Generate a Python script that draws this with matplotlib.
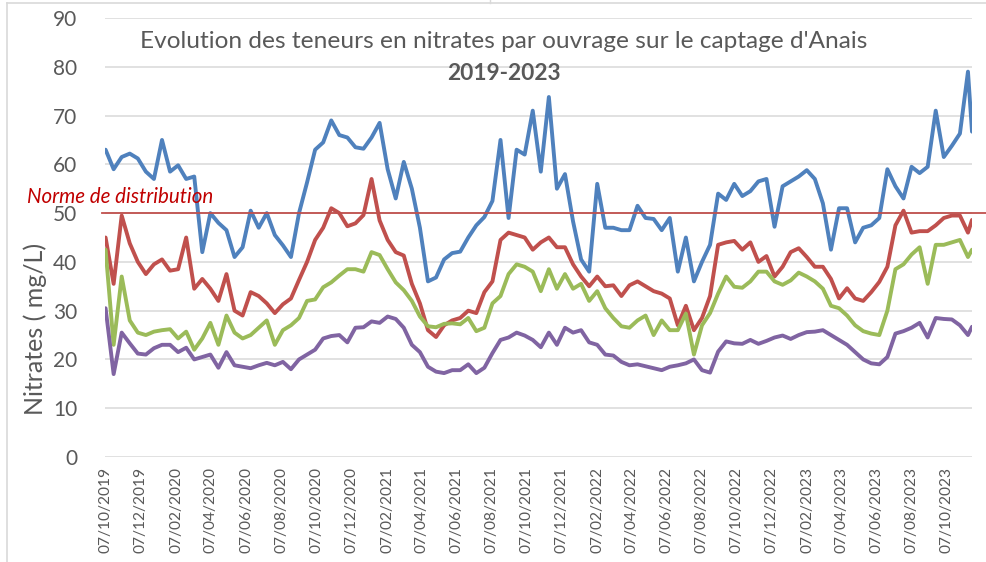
import numpy as np
import pandas as pd
import matplotlib
matplotlib.use("Agg")
import matplotlib.pyplot as plt
import matplotlib.dates as mdates
from matplotlib.lines import Line2D

# ---------------- data (biweekly readings) ----------------
start_date = "2019-10-07"
n_regular = 108
last_date = "2023-11-20"

blue = [63, 59, 61.5, 62.2, 61.2, 58.5, 57, 65, 58.5, 59.8, 57, 57.5, 42, 50, 48, 46.5, 41, 43,
        50.5, 47, 50, 45.5, 43.4, 41, 50, 56.3, 63, 64.5, 69, 66, 65.5, 63.5, 63.2, 65.5, 68.5, 59,
        53, 60.5, 55, 47, 36, 36.8, 40.5, 41.8, 42.1, 45, 47.5, 49.2, 52.5, 65, 49, 63, 62, 71,
        58.5, 73.8, 55, 58, 48.3, 40.5, 38, 56, 47, 47, 46.5, 46.5, 51.5, 49, 48.8, 46.5, 49, 38,
        45, 36, 40, 43.5, 54, 52.7, 56, 53.5, 54.5, 56.5, 57, 47.2, 55.5, 56.5, 57.5, 58.8, 57, 52,
        42.5, 51, 51, 44, 47, 47.5, 49, 59, 55.5, 53, 59.5, 58.2, 59.5, 71, 61.5, 63.8, 66.3, 79,
        66.7]
red = [45, 35.5, 49.5, 43.8, 40, 37.5, 39.5, 40.5, 38.2, 38.5, 45, 34.5, 36.5, 34.5, 32, 37.5, 30, 29,
       33.8, 33, 31.5, 29.5, 31.3, 32.5, 36.3, 40, 44.5, 47, 51, 50, 47.3, 47.9, 49.6, 57, 48.5, 44.5,
       42, 41.3, 35.5, 31.5, 26, 24.6, 27, 28, 28.5, 30, 29.5, 33.8, 36, 44.5, 46, 45.5, 45, 42.5,
       44, 45, 43, 43, 39.5, 37, 35, 37, 35, 35.2, 33, 35.2, 36, 35, 34, 33.5, 32.5, 27,
       31, 26, 28.5, 33, 43.5, 44, 44.3, 42.5, 44, 40, 41.2, 37, 39, 42, 42.8, 41, 39, 39,
       36.5, 32.5, 34.6, 32.5, 32, 33.8, 35.9, 39, 47.5, 50.5, 46, 46.3, 46.3, 47.5, 49, 49.5, 49.5, 46,
       48.6]
green = [42.5, 23, 37, 28, 25.5, 25, 25.7, 26, 26.2, 24.3, 25.7, 22, 24.3, 27.5, 23, 29, 25.5, 24.3,
         25, 26.5, 28, 23, 26, 27, 28.5, 32, 32.3, 34.8, 35.8, 37.2, 38.5, 38.5, 38, 42, 41.4, 38.5,
         35.8, 34.2, 32, 28.8, 26.8, 26.6, 27.3, 27.4, 27.2, 28.5, 25.8, 26.5, 31.5, 33, 37.5, 39.5, 39, 38,
         34, 38.5, 34.5, 37.5, 34.5, 35.5, 32, 34, 30.5, 28.5, 26.8, 26.5, 28, 29, 25, 28, 26, 26,
         29.4, 21, 27, 29.5, 33.5, 37, 34.9, 34.7, 36, 38, 38, 36, 35.3, 36.2, 37.8, 37, 36, 34.5,
         31, 30.5, 29, 27, 25.8, 25.3, 25, 30, 38.5, 39.5, 41.5, 43, 35.5, 43.5, 43.5, 44, 44.5, 41,
         42.5]
purple = [30.5, 17, 25.5, 23.3, 21.2, 21, 22.3, 23, 23, 21.5, 22.4, 20, 20.5, 21, 18.3, 21.5, 18.8, 18.5,
          18.2, 18.8, 19.3, 18.8, 19.5, 18, 20, 21, 22, 24.3, 24.8, 25, 23.5, 26.5, 26.6, 27.8, 27.5, 28.8,
          28.3, 26.5, 23, 21.5, 18.5, 17.5, 17.2, 17.8, 17.8, 19, 17.2, 18.3, 21.3, 24, 24.5, 25.5, 24.9, 24,
          22.5, 25.5, 23, 26.5, 25.5, 26, 23.5, 23, 21, 20.8, 19.5, 18.8, 19, 18.6, 18.2, 17.8, 18.5, 18.8,
          19.2, 20, 17.8, 17.3, 21.6, 23.7, 23.3, 23.2, 24, 23.2, 23.8, 24.5, 24.9, 24.2, 25, 25.6, 25.7, 26,
          25, 24, 23, 21.5, 20, 19.2, 19, 20.5, 25.3, 25.8, 26.5, 27.5, 24.5, 28.5, 28.3, 28.2, 27, 25,
          26.7]
norme_value = 50
y_ticks = [0, 10, 20, 30, 40, 50, 60, 70, 80, 90]

dates = list(pd.date_range(start_date, periods=n_regular, freq="14D")) + [pd.Timestamp(last_date)]

# ---------------- styling ----------------
FONT = ["Lato", "DejaVu Sans"]
plt.rcParams["font.family"] = FONT
GRAY = "#595959"

W, H = 986, 562
fig = plt.figure(figsize=(W / 100, H / 100), dpi=100)
fig.patch.set_facecolor("white")

ax_l, ax_r, ax_t, ax_b = 105, 972, 18, 457
ax = fig.add_axes([ax_l / W, 1 - ax_b / H, (ax_r - ax_l) / W, (ax_b - ax_t) / H])

colors = ["#4F81BD", "#C0504D", "#9BBB59", "#8064A2"]
for vals, c in zip([blue, red, green, purple], colors):
    ax.plot(dates, vals, color=c, lw=2.8, solid_joinstyle="round", solid_capstyle="round", zorder=3)

ax.set_ylim(0, 90)
ax.set_yticks(y_ticks)
ax.set_xlim(pd.Timestamp("2019-10-06"), pd.Timestamp("2023-11-20"))
ax.xaxis.set_major_locator(mdates.MonthLocator(bymonth=[2, 4, 6, 8, 10, 12], bymonthday=7))
ax.xaxis.set_major_formatter(mdates.DateFormatter("%d/%m/%Y"))
ax.grid(axis="y", color="#D9D9D9", lw=1.1, zorder=0)
for s in ax.spines.values():
    s.set_visible(False)
ax.tick_params(axis="both", length=0, colors=GRAY)
ax.tick_params(axis="y", labelsize=15, pad=20)
ax.tick_params(axis="x", labelsize=11.2, pad=7)
for lab in ax.get_xticklabels():
    lab.set_rotation(90)
    lab.set_va("top")
    lab.set_ha("center")

# norme line extends beyond the plot to the right edge
fig.add_artist(Line2D([102 / W, 1.0], [1 - (ax_b - (ax_b - ax_t) * norme_value / 90) / H] * 2,
                      color="#C0504D", lw=1.3, zorder=5))
fig.text(27 / W, 1 - 197 / H, "Norme de distribution", color="#C00000", fontsize=14.8,
         style="italic", ha="left", va="center")

# titles
fig.text(504 / W, 1 - 42 / H, "Evolution des teneurs en nitrates par ouvrage sur le captage d'Anais",
         color=GRAY, fontsize=17.6, ha="center", va="center")
fig.text(504 / W, 1 - 73 / H, "2019-2023", color=GRAY, fontsize=16.4, fontweight="bold",
         ha="center", va="center")

# y label
fig.text(35 / W, 1 - 329 / H, "Nitrates ( mg/L)", color=GRAY, fontsize=18, rotation=90,
         ha="center", va="center")

# chart frame
fig.add_artist(Line2D([7 / W, 1.0], [1 - 3 / H, 1 - 3 / H], color="#D9D9D9", lw=1.2))
fig.add_artist(Line2D([7 / W, 7 / W], [0, 1 - 3 / H], color="#D9D9D9", lw=1.2))
fig.add_artist(Line2D([490 / W, 490 / W], [1 - 3 / H, 1.0], color="#D9D9D9", lw=1.0))

fig.savefig("out.png", dpi=100, facecolor="white")
